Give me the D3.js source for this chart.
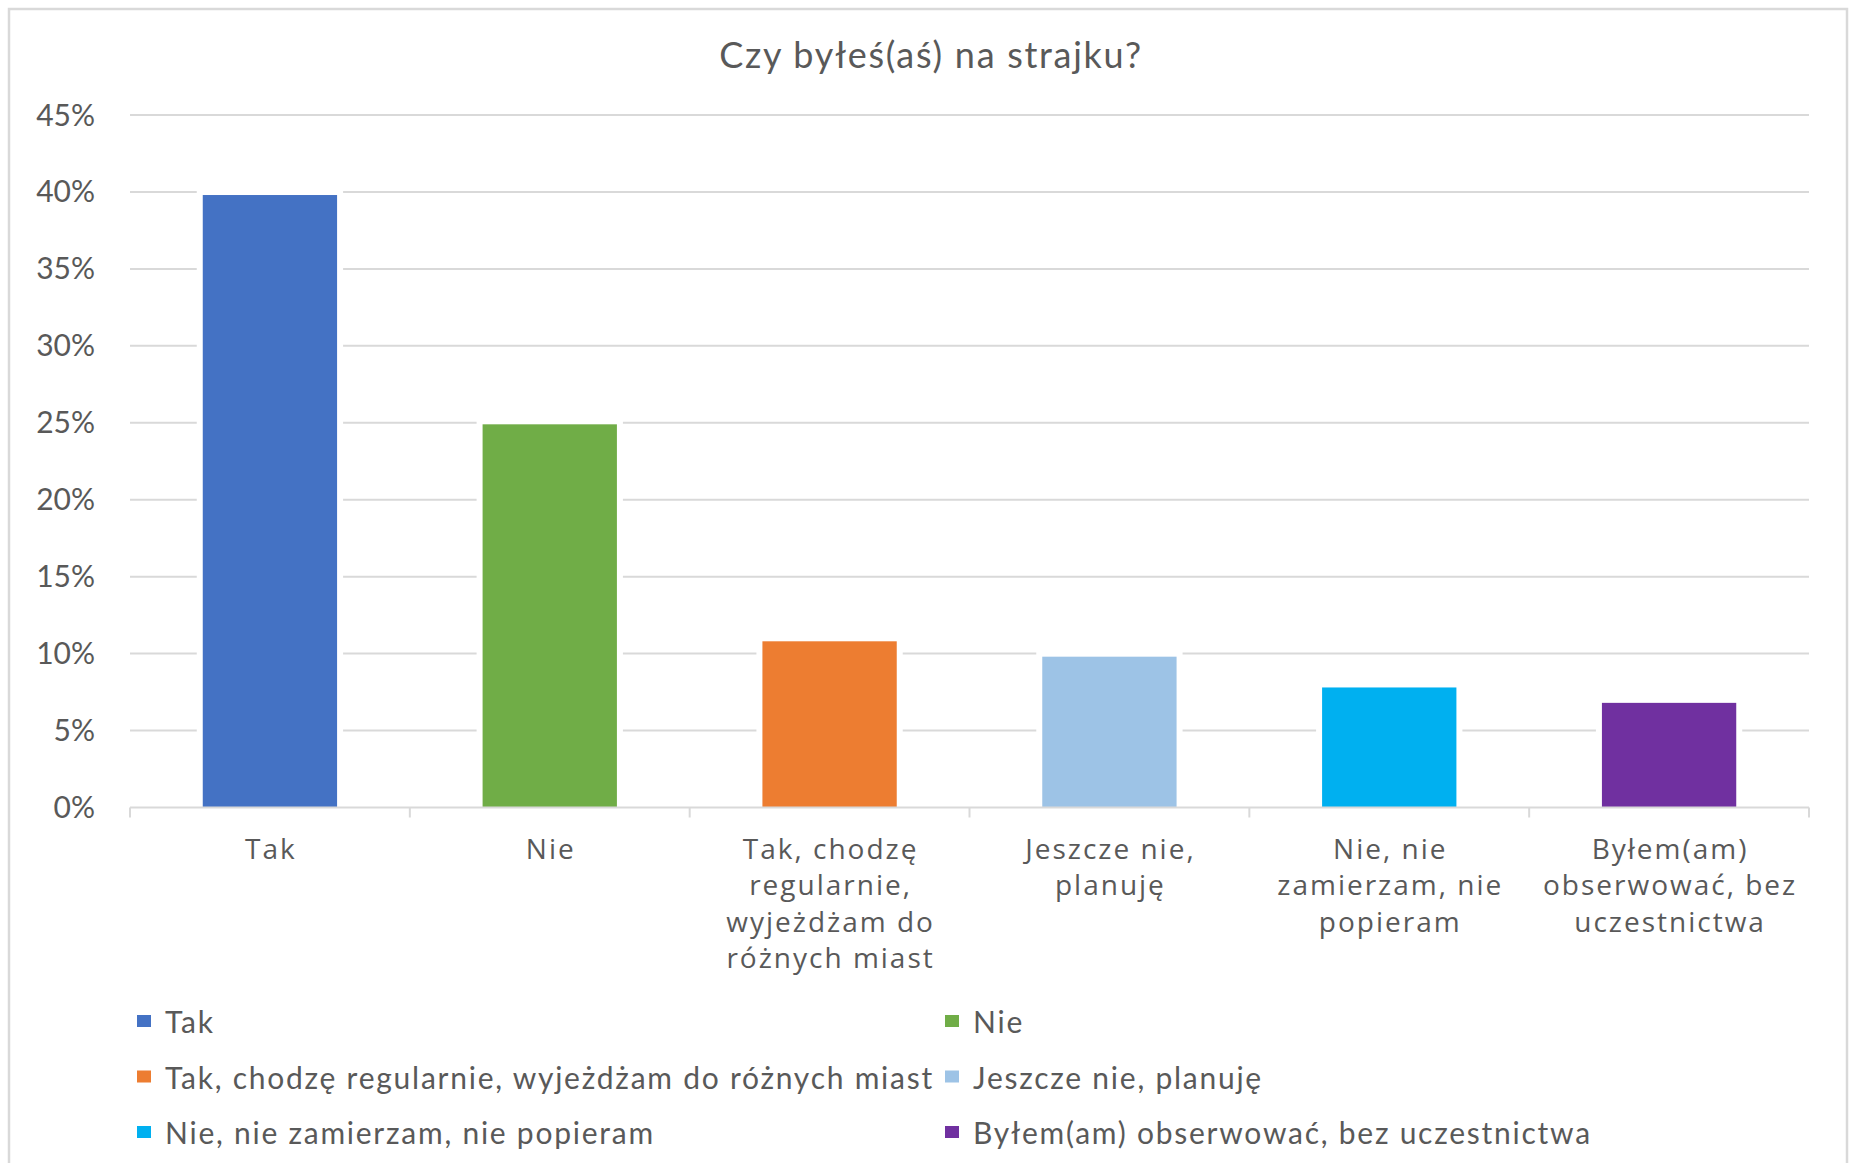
<!DOCTYPE html>
<html>
<head>
<meta charset="utf-8">
<script src="https://cdn.jsdelivr.net/npm/d3@7"></script>
<style>
  body { margin: 0; background: #fff; }
  text { fill: #595959; }
</style>
</head>
<body>
<div class="chart"></div>
<script>
var categories = ["Tak", "Nie", "Tak, chodzę regularnie, wyjeżdżam do różnych miast",
    "Jeszcze nie, planuję", "Nie, nie zamierzam, nie popieram",
    "Byłem(am) obserwować, bez uczestnictwa"];
var tickLines = [["Tak"], ["Nie"], ["Tak, chodzę", "regularnie,", "wyjeżdżam do", "różnych miast"],
    ["Jeszcze nie,", "planuję"], ["Nie, nie", "zamierzam, nie", "popieram"],
    ["Byłem(am)", "obserwować, bez", "uczestnictwa"]];
var values = [0.398, 0.249, 0.108, 0.098, 0.078, 0.068];
var colors = ["#4472C4", "#70AD47", "#ED7D31", "#9DC3E6", "#00B0F0", "#7030A0"];
var yTicks = [0, 0.05, 0.1, 0.15, 0.2, 0.25, 0.3, 0.35, 0.4, 0.45];
var title = "Czy byłeś(aś) na strajku?";

var svg = d3.select(".chart").append("svg")
    .attr("width", 1850)
    .attr("height", 1163);

// outer frame
svg.append("rect")
    .attr("x", 9).attr("y", 9)
    .attr("width", 1838).attr("height", 1170)
    .attr("fill", "#fff")
    .attr("stroke", "#d9d9d9")
    .attr("stroke-width", 2.5);

svg.append("text")
    .attr("x", 931).attr("y", 68)
    .attr("text-anchor", "middle")
    .style("font-family", "Lato")
    .style("font-size", "36px")
    .style("letter-spacing", "1.7px")
    .text(title);

var slot = d3.scaleBand()
    .domain(categories)
    .range([130, 1809]);

var y = d3.scaleLinear()
    .domain([0, 0.45])
    .range([807.5, 115]);

var barW = slot.bandwidth() * 0.48;

// gridlines
svg.append("g").selectAll("line")
    .data(yTicks.slice(1))
    .enter().append("line")
        .attr("x1", 130).attr("x2", 1809)
        .attr("y1", d => y(d)).attr("y2", d => y(d))
        .attr("stroke", "#d9d9d9")
        .attr("stroke-width", 2);

svg.append("g").selectAll("text")
    .data(yTicks)
    .enter().append("text")
        .attr("x", 95)
        .attr("y", d => y(d) + 10.5)
        .attr("text-anchor", "end")
        .style("font-family", "Lato")
        .style("font-size", "30px")
        .text(d => d3.format(".0%")(d));

// white gap round bars, then bars
svg.append("g").selectAll("rect")
    .data(values)
    .enter().append("rect")
        .attr("x", (d, i) => slot(categories[i]) + (slot.bandwidth() - barW) / 2 - 6)
        .attr("y", d => y(d) - 5)
        .attr("width", barW + 12)
        .attr("height", d => y(0) - y(d) + 5)
        .attr("fill", "#fff");

svg.append("g").selectAll("rect")
    .data(values)
    .enter().append("rect")
        .attr("x", (d, i) => slot(categories[i]) + (slot.bandwidth() - barW) / 2)
        .attr("y", d => y(d))
        .attr("width", barW)
        .attr("height", d => y(0) - y(d))
        .attr("fill", (d, i) => colors[i]);

// x axis line and ticks
svg.append("line")
    .attr("x1", 130).attr("x2", 1809)
    .attr("y1", y(0)).attr("y2", y(0))
    .attr("stroke", "#d9d9d9")
    .attr("stroke-width", 2);

var bounds = categories.map(c => slot(c)).concat([1809]);
svg.append("g").selectAll("line")
    .data(bounds)
    .enter().append("line")
        .attr("x1", d => d).attr("x2", d => d)
        .attr("y1", y(0)).attr("y2", y(0) + 10)
        .attr("stroke", "#d9d9d9")
        .attr("stroke-width", 2);

var labels = svg.append("g").selectAll("text")
    .data(tickLines)
    .enter().append("text")
        .attr("text-anchor", "middle")
        .style("font-family", "Open Sans")
        .style("font-size", "28px")
        .style("letter-spacing", "2px");

labels.each(function(lines, i) {
    var cx = slot(categories[i]) + slot.bandwidth() / 2;
    d3.select(this).selectAll("tspan")
        .data(lines)
        .enter().append("tspan")
            .attr("x", cx + 1)
            .attr("y", (d, j) => 859 + j * 36.4)
            .text(d => d);
});

// legend, two columns
var legend = svg.append("g").selectAll("g")
    .data(categories)
    .enter().append("g")
        .attr("transform", (d, i) => "translate(" + (i % 2 == 0 ? 137 : 945) + "," + (1021 + Math.floor(i / 2) * 55.5) + ")");

legend.append("rect")
    .attr("x", 0).attr("y", -6)
    .attr("width", 14).attr("height", 12)
    .attr("fill", (d, i) => colors[i]);

legend.append("text")
    .attr("x", 28).attr("y", 12)
    .style("font-family", "Lato")
    .style("font-size", "30px")
    .style("letter-spacing", "1.75px")
    .text(d => d);
</script>
</body>
</html>
